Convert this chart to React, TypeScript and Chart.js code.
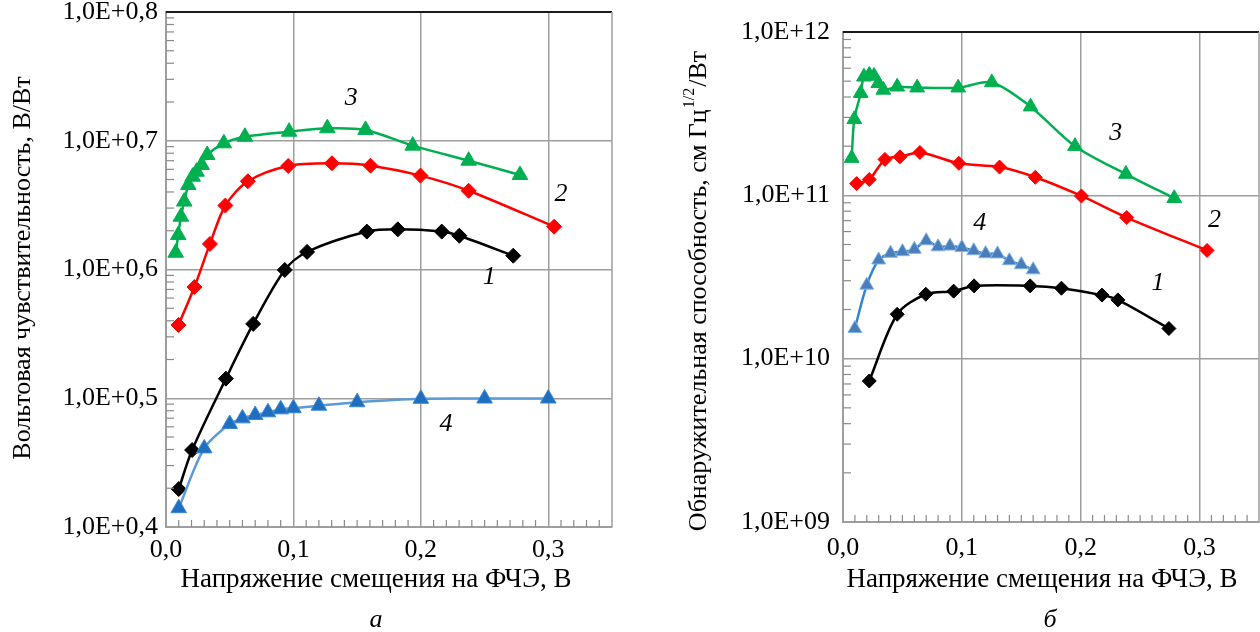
import React, { useEffect, useRef } from "react";
import { Chart, registerables } from "chart.js";

Chart.register(...registerables);

const FONT = "'Liberation Serif', 'Times New Roman', serif";
const GRID = "#9e9e9e";

// ---- axes ----
const xTickValues = [0, 0.1, 0.2, 0.3];
const xMin = 0;
const xMax = 0.35;
const xMinorCount = 35; // minor ticks every 0.01
const yTicksA = [1e4, 1e5, 1e6, 1e7, 1e8];
const yTicksB = [1e9, 1e10, 1e11, 1e12];
const minorMultipliers = [2, 3, 4, 5, 6, 7, 8, 9];

// ---- panel a: Вольтовая чувствительность ----
const a1X = [0.01, 0.0205, 0.047, 0.0684, 0.0932, 0.1107, 0.1576, 0.1819, 0.2164, 0.2302, 0.2725];
const a1Y = [1.97e4, 3.96e4, 1.42e5, 3.78e5, 9.91e5, 1.37e6, 1.97e6, 2.05e6, 1.97e6, 1.83e6, 1.28e6];

const a2X = [0.0098, 0.0223, 0.0345, 0.0466, 0.0642, 0.0959, 0.1302, 0.1605, 0.1997, 0.2375, 0.3046];
const a2Y = [3.71e5, 7.31e5, 1.58e6, 3.14e6, 4.84e6, 6.37e6, 6.68e6, 6.4e6, 5.36e6, 4.09e6, 2.15e6];

const a3X = [0.0076, 0.0096, 0.0117, 0.0143, 0.0175, 0.0209, 0.024, 0.028, 0.0323, 0.0454, 0.0619, 0.0966, 0.1266, 0.1566, 0.1936, 0.2375, 0.2778];
const a3Y = [1.35e6, 1.85e6, 2.57e6, 3.37e6, 4.53e6, 5.26e6, 5.75e6, 6.49e6, 7.75e6, 9.55e6, 1.074e7, 1.175e7, 1.25e7, 1.213e7, 9.16e6, 7.0e6, 5.42e6];

const a4X = [0.01, 0.03, 0.05, 0.06, 0.07, 0.08, 0.09, 0.1, 0.12, 0.15, 0.2, 0.25, 0.3];
const a4Y = [1.4e4, 4.08e4, 6.31e4, 6.98e4, 7.41e4, 7.78e4, 8.2e4, 8.36e4, 8.75e4, 9.31e4, 9.9e4, 9.95e4, 9.95e4];

const aLabelText = ["1", "2", "3", "4"];
const aLabelX = [0.2537, 0.31, 0.1453, 0.2198];
const aLabelY = [8.75e5, 3.86e6, 2.15e7, 6.31e4];

// ---- panel б: Обнаружительная способность ----
const b1X = [0.0221, 0.0456, 0.0697, 0.0931, 0.1103, 0.1575, 0.1838, 0.2179, 0.2313, 0.2742];
const b1Y = [7.3e9, 1.87e10, 2.48e10, 2.59e10, 2.79e10, 2.79e10, 2.7e10, 2.45e10, 2.29e10, 1.53e10];

const b2X = [0.0115, 0.0221, 0.0353, 0.0479, 0.0647, 0.0975, 0.1317, 0.1618, 0.2006, 0.2387, 0.3063];
const b2Y = [1.18e11, 1.25e11, 1.66e11, 1.72e11, 1.83e11, 1.57e11, 1.49e11, 1.29e11, 9.91e10, 7.31e10, 4.6e10];

const b3X = [0.0073, 0.0095, 0.0149, 0.0176, 0.0221, 0.0261, 0.0297, 0.0339, 0.0456, 0.0624, 0.0969, 0.1252, 0.1578, 0.1952, 0.238, 0.2787];
const b3Y = [1.69e11, 2.92e11, 4.22e11, 5.32e11, 5.46e11, 5.38e11, 4.85e11, 4.42e11, 4.62e11, 4.56e11, 4.56e11, 4.91e11, 3.49e11, 2.0e11, 1.35e11, 9.59e10];

const b4X = [0.01, 0.02, 0.03, 0.04, 0.05, 0.06, 0.07, 0.08, 0.09, 0.1, 0.11, 0.12, 0.13, 0.14, 0.15, 0.16];
const b4Y = [1.53e10, 2.82e10, 4.02e10, 4.42e10, 4.52e10, 4.67e10, 5.27e10, 4.84e10, 4.89e10, 4.79e10, 4.58e10, 4.39e10, 4.38e10, 3.98e10, 3.76e10, 3.5e10];

const bLabelText = ["1", "2", "3", "4"];
const bLabelX = [0.265, 0.3126, 0.2294, 0.1151];
const bLabelY = [2.89e10, 7.06e10, 2.4e11, 6.74e10];

const xTitle = "Напряжение смещения на ФЧЭ, В";
const aYTitle = "Вольтовая чувствительность, В/Вт";
const bYTitleParts = ["Обнаружительная способность, см Гц", "1/2", "/Вт"];

type PanelSpec = {
  series: { x: number[]; y: number[]; color: string; lineColor: string; borderColor: string; style: string; r: number }[];
  yTicks: number[];
  yLabel: (v: number) => string;
  labels: { t: string[]; x: number[]; y: number[] };
  padding: { left: number; right: number; top: number; bottom: number };
  yWidth: number;
  xHeight: number;
  yPad: number;
  xPad: number;
  titles: (ctx: CanvasRenderingContext2D) => void;
};

function buildConfig(p: PanelSpec): any {
  const decor = {
    id: "decor",
    afterDraw(chart: any) {
      const { ctx, chartArea: ca } = chart;
      const xs = chart.scales.x;
      const ys = chart.scales.y;
      ctx.save();
      // frame top / right
      ctx.strokeStyle = "#1a1a1a";
      ctx.lineWidth = 2;
      ctx.beginPath();
      ctx.moveTo(ca.left, ca.top);
      ctx.lineTo(ca.right, ca.top);
      ctx.stroke();
      ctx.strokeStyle = GRID;
      ctx.lineWidth = 1.5;
      ctx.beginPath();
      ctx.moveTo(ca.right, ca.top);
      ctx.lineTo(ca.right, ca.bottom);
      ctx.stroke();
      // minor ticks y
      ctx.lineWidth = 1.2;
      ctx.strokeStyle = "#8a8a8a";
      for (let i = 0; i < p.yTicks.length - 1; i++) {
        for (const m of minorMultipliers) {
          const py = ys.getPixelForValue(p.yTicks[i] * m);
          ctx.beginPath();
          ctx.moveTo(ca.left, py);
          ctx.lineTo(ca.left + 8, py);
          ctx.stroke();
        }
      }
      // minor ticks x
      for (let i = 1; i < xMinorCount; i++) {
        if (i % 10 === 0) continue;
        const px = xs.getPixelForValue(i / 100);
        ctx.beginPath();
        ctx.moveTo(px, ca.bottom);
        ctx.lineTo(px, ca.bottom - 7);
        ctx.stroke();
      }
      // curve numbers
      ctx.fillStyle = "#000";
      ctx.font = `italic 26px ${FONT}`;
      ctx.textAlign = "center";
      ctx.textBaseline = "middle";
      p.labels.t.forEach((t, i) => {
        ctx.fillText(t, xs.getPixelForValue(p.labels.x[i]), ys.getPixelForValue(p.labels.y[i]));
      });
      p.titles(ctx);
      ctx.restore();
    },
  };

  return {
    type: "line",
    data: {
      datasets: p.series.map((s) => ({
        data: s.x.map((x, i) => ({ x, y: s.y[i] })),
        borderColor: s.lineColor,
        backgroundColor: s.color,
        pointBackgroundColor: s.color,
        pointBorderColor: s.borderColor,
        pointBorderWidth: 1,
        pointStyle: s.style,
        pointRadius: s.r,
        borderWidth: 2.5,
        tension: 0.3,
        fill: false,
      })),
    },
    options: {
      animation: false,
      responsive: false,
      events: [],
      layout: { padding: p.padding, autoPadding: false },
      plugins: { legend: { display: false }, tooltip: { enabled: false } },
      scales: {
        x: {
          type: "linear",
          min: xMin,
          max: xMax,
          afterBuildTicks: (s: any) => {
            s.ticks = xTickValues.map((v) => ({ value: v }));
          },
          afterFit: (s: any) => {
            s.height = p.xHeight;
            s.paddingLeft = 0;
            s.paddingRight = 0;
          },
          ticks: {
            autoSkip: false,
            maxRotation: 0,
            padding: p.xPad,
            color: "#000",
            font: { family: FONT, size: 26 },
            callback: (v: number) => v.toFixed(1).replace(".", ","),
          },
          grid: { color: GRID, lineWidth: 1.5, drawTicks: false },
          border: { color: GRID, width: 2 },
        },
        y: {
          type: "logarithmic",
          min: p.yTicks[0],
          max: p.yTicks[p.yTicks.length - 1],
          afterBuildTicks: (s: any) => {
            s.ticks = p.yTicks.map((v) => ({ value: v, major: true }));
          },
          afterFit: (s: any) => {
            s.width = p.yWidth;
            s.paddingTop = 0;
            s.paddingBottom = 0;
          },
          ticks: {
            autoSkip: false,
            padding: p.yPad,
            color: "#000",
            font: { family: FONT, size: 26 },
            callback: (v: number) => p.yLabel(v),
          },
          grid: { color: GRID, lineWidth: 1.5, drawTicks: false },
          border: { color: GRID, width: 2 },
        },
      },
    },
    plugins: [decor],
  };
}

const diamond = "rectRot";
const tri = "triangle";

const specA: PanelSpec = {
  series: [
    { x: a4X, y: a4Y, color: "#1F6FC0", lineColor: "#5B9BD5", borderColor: "#3D86D0", style: tri, r: 9 },
    { x: a1X, y: a1Y, color: "#000000", lineColor: "#000000", borderColor: "#000000", style: diamond, r: 7.5 },
    { x: a2X, y: a2Y, color: "#FF0000", lineColor: "#FF0000", borderColor: "#FF0000", style: diamond, r: 7.5 },
    { x: a3X, y: a3Y, color: "#00B050", lineColor: "#00B050", borderColor: "#00B050", style: tri, r: 9 },
  ],
  yTicks: yTicksA,
  yLabel: (v) => "1,0E+0," + Math.round(Math.log10(v)),
  labels: { t: aLabelText, x: aLabelX, y: aLabelY },
  padding: { left: 0, right: 18, top: 12, bottom: 0 },
  yWidth: 166,
  xHeight: 105,
  yPad: 8,
  xPad: 8,
  titles: (ctx) => {
    ctx.font = `27px ${FONT}`;
    ctx.fillStyle = "#000";
    ctx.textAlign = "center";
    ctx.textBaseline = "middle";
    ctx.fillText(xTitle, 376, 580);
    ctx.font = `italic 26px ${FONT}`;
    ctx.fillText("а", 376, 620);
    ctx.save();
    ctx.translate(23, 268);
    ctx.rotate(-Math.PI / 2);
    ctx.font = `26px ${FONT}`;
    ctx.fillText(aYTitle, 0, 0);
    ctx.restore();
  },
};

const specB: PanelSpec = {
  series: [
    { x: b1X, y: b1Y, color: "#000000", lineColor: "#000000", borderColor: "#000000", style: diamond, r: 7 },
    { x: b2X, y: b2Y, color: "#FF0000", lineColor: "#FF0000", borderColor: "#FF0000", style: diamond, r: 7 },
    { x: b3X, y: b3Y, color: "#00B050", lineColor: "#00B050", borderColor: "#00B050", style: tri, r: 8.5 },
    { x: b4X, y: b4Y, color: "#4A7EBB", lineColor: "#2F86D6", borderColor: "#7FB2E5", style: tri, r: 8 },
  ],
  yTicks: yTicksB,
  yLabel: (v) => "1,0E+" + String(Math.round(Math.log10(v))).padStart(2, "0"),
  labels: { t: bLabelText, x: bLabelX, y: bLabelY },
  padding: { left: 0, right: 1, top: 32, bottom: 0 },
  yWidth: 213,
  xHeight: 110,
  yPad: 13,
  xPad: 11,
  titles: (ctx) => {
    ctx.font = `27px ${FONT}`;
    ctx.fillStyle = "#000";
    ctx.textAlign = "center";
    ctx.textBaseline = "middle";
    ctx.fillText(xTitle, 412, 580);
    ctx.font = `italic 26px ${FONT}`;
    ctx.fillText("б", 420, 620);
    ctx.save();
    ctx.translate(69, 292);
    ctx.rotate(-Math.PI / 2);
    ctx.textAlign = "left";
    const big = `26px ${FONT}`;
    const small = `16px ${FONT}`;
    ctx.font = big;
    const w1 = ctx.measureText(bYTitleParts[0]).width;
    const w3 = ctx.measureText(bYTitleParts[2]).width;
    ctx.font = small;
    const w2 = ctx.measureText(bYTitleParts[1]).width;
    let x0 = -(w1 + w2 + w3) / 2;
    ctx.font = big;
    ctx.fillText(bYTitleParts[0], x0, 0);
    x0 += w1;
    ctx.font = small;
    ctx.fillText(bYTitleParts[1], x0 + 1, -9);
    x0 += w2 + 2;
    ctx.font = big;
    ctx.fillText(bYTitleParts[2], x0, 0);
    ctx.restore();
  },
};

function Panel({ spec, left }: { spec: PanelSpec; left: number }) {
  const ref = useRef<HTMLCanvasElement>(null);
  useEffect(() => {
    const chart = new Chart(ref.current as HTMLCanvasElement, buildConfig(spec));
    return () => chart.destroy();
  }, [spec]);
  return (
    <canvas
      ref={ref}
      width={630}
      height={632}
      style={{ position: "absolute", left, top: 0, width: 630, height: 632 }}
    />
  );
}

export default function App() {
  return (
    <div style={{ position: "fixed", left: 0, top: 0, width: 1260, height: 632, background: "#fff", overflow: "hidden" }}>
      <Panel spec={specA} left={0} />
      <Panel spec={specB} left={630} />
    </div>
  );
}
